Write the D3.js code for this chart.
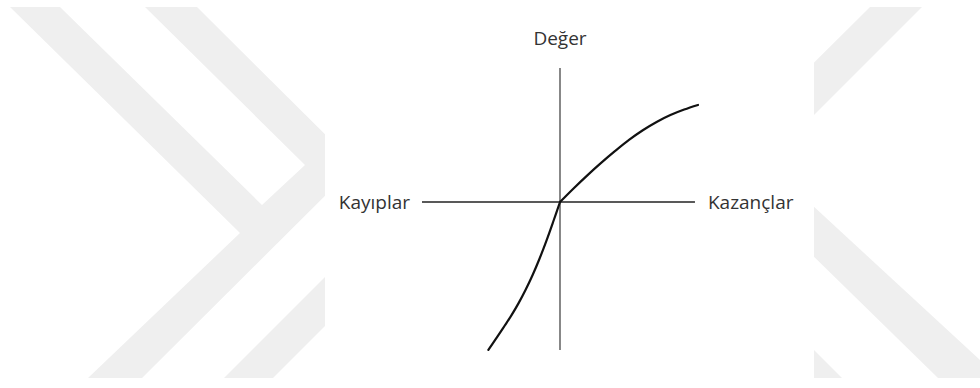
<!DOCTYPE html>
<html>
<head>
<meta charset="utf-8">
<script src="https://cdn.jsdelivr.net/npm/d3@7"></script>
<style>
  html, body { margin: 0; padding: 0; background: #fff; }
  svg { display: block; }
  .label { font-family: "Open Sans", sans-serif; font-size: 19px; fill: #333; }
</style>
</head>
<body>
<div id="chart"></div>
<script>
const width = 980;
const height = 388;

// value function (arbitrary units, origin = reference point)
const gainX = [0, 1, 2, 3, 4, 5, 6, 7, 8, 9, 10];
const gainV = [0, 1.0, 1.95, 2.85, 3.7, 4.5, 5.2, 5.8, 6.3, 6.7, 7.03];
const lossX = [0, -0.5, -1, -1.5, -2, -2.5, -3, -3.5, -4, -4.5, -5.19];
const lossV = [0, -1.45, -2.85, -4.15, -5.33, -6.38, -7.33, -8.18, -8.95, -9.7, -10.72];

// axis extents
const xAxisExtent = [-10, 9.78];
const yAxisExtent = [-10.72, 9.71];

// axis labels
const xLabels = ["Kayıplar", "Kazançlar"];
const yLabel = "Değer";

// background watermark shapes (pixel space, decoration only)
const watermark = [
  [[10,7],[60,7],[262,205],[305,165],[145,7],[197,7],[356,165],[142,378],[88,378],[240,233]],
  [[402,200],[451,200],[273,378],[224,378]],
  [[870,7],[922,7],[779,150],[726,150]],
  [[760,157],[980,360],[980,378],[938,378],[760,204]],
  [[790,326],[842,378],[790,378]]
];

const svg = d3.select('#chart')
  .append('svg')
  .attr('width', width)
  .attr('height', height);

// watermark + white picture area
svg.selectAll('.wm')
  .data(watermark)
  .join('path')
    .attr('class', 'wm')
    .attr('d', d => d3.line()(d) + 'Z')
    .attr('fill', '#efefef');

svg.append('rect')
  .attr('x', 325).attr('y', 0)
  .attr('width', 814 - 325).attr('height', height)
  .attr('fill', '#fff');

// scales: 13.8 px per unit on both axes, origin at (560, 202)
const x = d3.scaleLinear().domain([-10, 10]).range([422, 698]);
const y = d3.scaleLinear().domain([-11, 10]).range([202 + 11 * 13.8, 202 - 10 * 13.8]);

// axes
svg.append('line')
  .attr('x1', x(xAxisExtent[0])).attr('x2', x(xAxisExtent[1]))
  .attr('y1', y(0)).attr('y2', y(0))
  .attr('stroke', '#222')
  .attr('stroke-width', 1.6);

svg.append('line')
  .attr('x1', x(0)).attr('x2', x(0))
  .attr('y1', y(yAxisExtent[0])).attr('y2', y(yAxisExtent[1]))
  .attr('stroke', '#555')
  .attr('stroke-width', 1.4);

// curve: one branch for gains, one for losses, both starting at the origin
const branches = [
  gainX.map((d, i) => [d, gainV[i]]),
  lossX.map((d, i) => [d, lossV[i]])
];

const line = d3.line()
  .x(d => x(d[0]))
  .y(d => y(d[1]))
  .curve(d3.curveCatmullRom.alpha(0.5));

svg.selectAll('.branch')
  .data(branches)
  .join('path')
    .attr('class', 'branch')
    .attr('d', line)
    .attr('fill', 'none')
    .attr('stroke', '#111')
    .attr('stroke-width', 2.2)
    .attr('stroke-linecap', 'round');

// labels
svg.append('text')
  .attr('class', 'label')
  .attr('x', x(xAxisExtent[0]) - 12)
  .attr('y', y(0) + 7)
  .attr('text-anchor', 'end')
  .text(xLabels[0]);

svg.append('text')
  .attr('class', 'label')
  .attr('x', x(xAxisExtent[1]) + 13)
  .attr('y', y(0) + 7)
  .attr('text-anchor', 'start')
  .text(xLabels[1]);

svg.append('text')
  .attr('class', 'label')
  .attr('x', x(0))
  .attr('y', y(yAxisExtent[1]) - 23)
  .attr('text-anchor', 'middle')
  .text(yLabel);
</script>
</body>
</html>
